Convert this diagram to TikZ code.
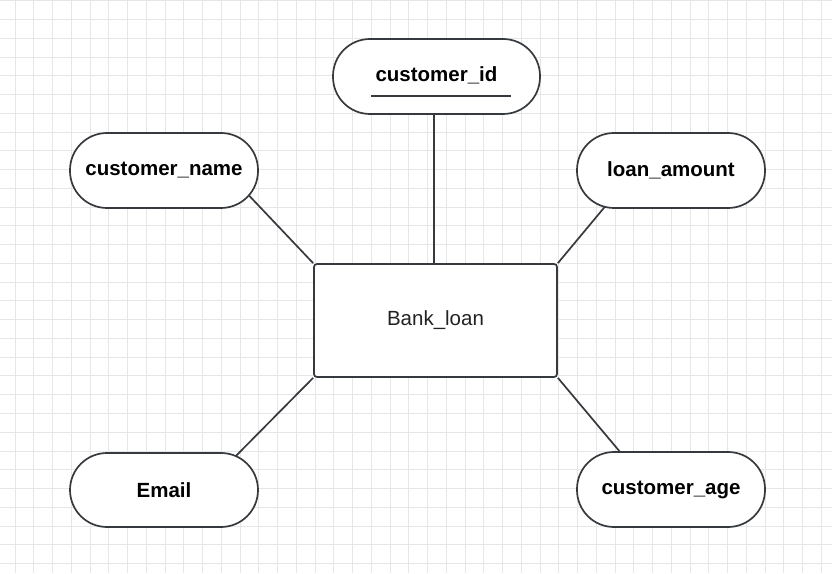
\documentclass[tikz,border=0pt]{standalone}
\usepackage{fontspec}
\setmainfont{Liberation Sans}
\usetikzlibrary{backgrounds}
\definecolor{gridc}{HTML}{E6E6E6}
\definecolor{linec}{HTML}{36393D}
\definecolor{textc}{HTML}{222222}
\tikzset{
  attr/.style={draw=linec, line width=1.7pt, fill=white, rounded corners=37pt,
    minimum width=188pt, minimum height=75pt, inner sep=0pt,
    font=\fontsize{20.5}{24}\selectfont\bfseries, text=black},
  entity/.style={draw=linec, line width=1.7pt, fill=white, rounded corners=3pt,
    minimum width=243pt, minimum height=113pt, inner sep=0pt,
    font=\fontsize{20.5}{24}\selectfont, text=textc},
  conn/.style={draw=linec, line width=1.7pt},
}
\begin{document}
\begin{tikzpicture}[x=1pt,y=1pt]
\useasboundingbox (0,0) rectangle (832,573);
\begin{scope}[on background layer]
  \fill[white] (0,0) rectangle (832,573);
  \foreach \i in {0,...,43} {\draw[gridc, line width=1pt] (15+18.75*\i,0) -- (15+18.75*\i,573);}
  \foreach \i in {0,...,30} {\draw[gridc, line width=1pt] (0,572-18.75*\i) -- (832,572-18.75*\i);}
\end{scope}

\node[entity] (bank) at (435.5,252.5) {Bank\_loan};
\node[attr, minimum width=207pt] (cid) at (436.5,496.5) {};
\node[font=\fontsize{20.5}{24}\selectfont\bfseries] (cidt) at (436.5,498) {customer\_id};
\draw[linec, line width=1.3pt] (371,477) coordinate (ul1) -- (511,477) coordinate (ul2);
\node[attr] (cname) at (164,402.5) {customer\_name};
\node[attr] (loan) at (671,402.5) {loan\_amount};
\node[attr, minimum height=74pt] (email) at (164,83) {Email};
\node[attr] (cage) at (671,83.5) {customer\_age};

\coordinate (pc) at (434,470);
\coordinate (pn) at (240,387);
\coordinate (pl) at (618,382);
\coordinate (pe) at (225,106);
\coordinate (pa) at (631,108);

\begin{scope}[on background layer]
  \draw[conn] (pc) -- (pc |- bank.north);
  \draw[conn] (bank.north west) -- (pn);
  \draw[conn] (bank.north east) -- (pl);
  \draw[conn] (bank.south west) -- (pe);
  \draw[conn] (bank.south east) -- (pa);
\end{scope}
\end{tikzpicture}
\end{document}
